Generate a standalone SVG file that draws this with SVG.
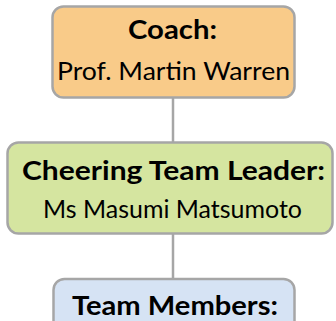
<svg xmlns="http://www.w3.org/2000/svg" width="336" height="321" viewBox="0 0 336 321">
<style>
.box{stroke:#a6a6a6;stroke-width:2.5}
.t{font-family:Lato,"Open Sans","Liberation Sans",sans-serif;font-size:25px;fill:#000;text-anchor:middle}
.b{font-weight:bold;font-size:26px}
.c{stroke:#a6a6a6;stroke-width:2.5;fill:none}
</style>
<rect width="336" height="321" fill="#fff"/>
<g id="connectors">
<line class="c" x1="173" y1="98" x2="173" y2="143"/>
<line class="c" x1="173" y1="233" x2="173" y2="279"/>
</g>
<g id="coach">
<rect class="box" x="52.5" y="6.5" width="242" height="91" rx="11" fill="#f9cb89"/>
<text class="t b" x="172.5" y="39" textLength="89" lengthAdjust="spacingAndGlyphs">Coach:</text>
<text class="t" x="173.5" y="80" textLength="233" lengthAdjust="spacingAndGlyphs">Prof. Martin Warren</text>
</g>
<g id="leader">
<rect class="box" x="7.5" y="142.5" width="325" height="91" rx="11" fill="#d5e5a0"/>
<text class="t b" x="173.5" y="180" textLength="303" lengthAdjust="spacingAndGlyphs">Cheering Team Leader:</text>
<text class="t" x="172.5" y="218" textLength="259" lengthAdjust="spacingAndGlyphs">Ms Masumi Matsumoto</text>
</g>
<g id="members">
<rect class="box" x="53.5" y="279" width="241" height="60" rx="11" fill="#d6e3f4"/>
<text class="t b" x="175" y="315" textLength="206" lengthAdjust="spacingAndGlyphs">Team Members:</text>
</g>
</svg>
